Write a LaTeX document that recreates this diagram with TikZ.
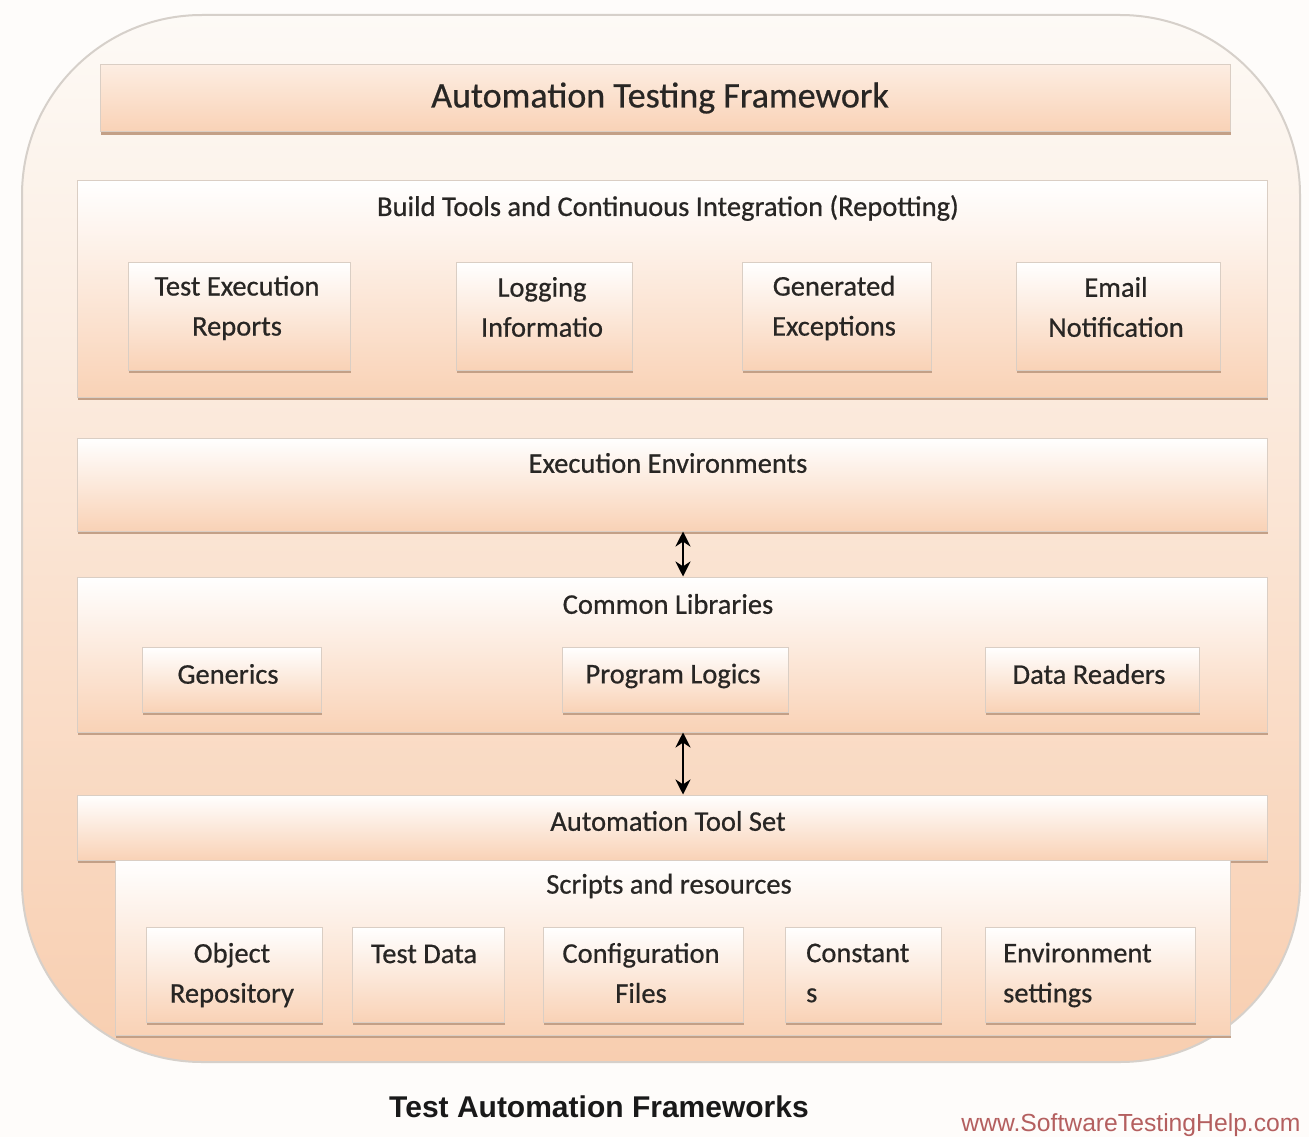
\documentclass[tikz,border=0pt]{standalone}
\usepackage{fontspec}
\setmainfont{Carlito}
\newfontfamily\boxfont[FakeBold=0.6]{Carlito}
\newfontfamily\arialf{Liberation Sans}
\usetikzlibrary{arrows.meta,shadows}
\definecolor{bgc}{RGB}{254,252,250}
\definecolor{peach}{RGB}{249,210,182}
\definecolor{framebot}{RGB}{248,206,176}
\definecolor{frametop}{RGB}{253,250,246}
\definecolor{edgec}{RGB}{218,206,196}
\definecolor{frameedge}{RGB}{214,208,202}
\definecolor{shadowc}{RGB}{195,160,135}
\definecolor{txt}{RGB}{40,38,36}
\definecolor{wmc}{RGB}{180,95,95}
\tikzset{
  panel/.style={draw=edgec, line width=1pt, top color=white, bottom color=peach,
    drop shadow={shadow xshift=1pt, shadow yshift=-3pt, fill=shadowc, opacity=1},
    inner sep=0pt},
  ibox/.style={panel},
  lbl/.style={font=\boxfont\fontsize{28.5}{40}\selectfont, text=txt, inner sep=0pt, align=center},
  dbl/.style={line width=2.8pt, {Stealth[length=15pt,width=15pt]}-{Stealth[length=15pt,width=15pt]}}
}
\begin{document}
\begin{tikzpicture}[x=1pt,y=-1pt]
\fill[bgc] (0,0) rectangle (1309,1137);
\useasboundingbox (0,0) rectangle (1309,1137);
% outer frame
\node[draw=frameedge, line width=2pt, top color=frametop, bottom color=framebot,
  rounded corners=180pt, minimum width=1278pt, minimum height=1047pt, inner sep=0pt]
  (frame) at (661,538.5) {};
% title
\node[panel, minimum width=1130pt, minimum height=67pt, top color=white!60!peach, bottom color=peach]
  (title) at (665,98.5) {};
\node[lbl, font=\boxfont\fontsize{36}{40}\selectfont] (titlet) at (660,98) {Automation Testing Framework};
% build tools panel
\node[panel, minimum width=1190pt, minimum height=217pt] (build) at (672,288.5) {};
\node[lbl] (buildt) at (668,208) {Build Tools and Continuous Integration (Repotting)};
\node[ibox, minimum width=222pt, minimum height=108pt] (ter) at (239,316) {};
\node[lbl] (tert) at (237,308) {Test Execution\\Reports};
\node[ibox, minimum width=176pt, minimum height=108pt] (log) at (544,316) {};
\node[lbl] (logt) at (542,307) {Logging\\Informatio};
\node[ibox, minimum width=189pt, minimum height=108pt] (gen) at (836.5,316) {};
\node[lbl] (gent) at (834,308) {Generated\\Exceptions};
\node[ibox, minimum width=204pt, minimum height=108pt] (email) at (1118,316) {};
\node[lbl] (emailt) at (1116,307) {Email\\Notification};
% execution environments
\node[panel, minimum width=1190pt, minimum height=93pt] (exec) at (672,484.5) {};
\node[lbl] (exect) at (668,463) {Execution Environments};
% common libraries
\node[panel, minimum width=1190pt, minimum height=155pt] (common) at (672,654.5) {};
\node[lbl] (commont) at (668,604) {Common Libraries};
\node[ibox, minimum width=179pt, minimum height=65pt] (generics) at (231.5,679.5) {};
\node[lbl] (genericst) at (228,674) {Generics};
\node[ibox, minimum width=226pt, minimum height=65pt] (prog) at (675,679.5) {};
\node[lbl] (progt) at (673,676) {Program Logics};
\node[ibox, minimum width=214pt, minimum height=65pt] (data) at (1092,679.5) {};
\node[lbl] (datat) at (1089,674) {Data Readers};
% automation tool set
\node[panel, minimum width=1190pt, minimum height=65pt] (toolset) at (672,827.5) {};
\node[lbl] (toolsett) at (668,821) {Automation Tool Set};
% scripts and resources
\node[panel, minimum width=1115pt, minimum height=175pt] (scripts) at (672.5,947.5) {};
\node[lbl] (scriptst) at (669,886) {Scripts and resources};
\node[ibox, minimum width=176pt, minimum height=95pt] (obj) at (234,974.5) {};
\node[lbl] (objt) at (232,975) {Object\\Repository};
\node[ibox, minimum width=152pt, minimum height=95pt] (tdata) at (428,974.5) {};
\node[lbl] (tdatat) at (424,954) {Test Data};
\node[ibox, minimum width=200pt, minimum height=95pt] (config) at (643,974.5) {};
\node[lbl] (configt) at (641,973) {Configuration\\Files};
\node[ibox, minimum width=156pt, minimum height=95pt] (const) at (863,974.5) {};
\node[lbl, align=left, anchor=west] (constt) at (806,973) {Constant\\s};
\node[ibox, minimum width=210pt, minimum height=95pt] (env) at (1090,974.5) {};
\node[lbl, align=left, anchor=west] (envt) at (1003,975) {Environment\\settings};
% arrows
\coordinate (ax) at (683,0);
\draw[dbl] (exec.south -| ax) -- (common.north -| ax);
\draw[dbl] (common.south -| ax) -- (toolset.north -| ax);
% captions
\node[font=\arialf\bfseries\fontsize{30}{32}\selectfont, inner sep=0pt, text=black!90] (cap) at (599,1107) {Test Automation Frameworks};
\node[font=\arialf\fontsize{24.7}{26}\selectfont, inner sep=0pt, text=wmc] (wm) at (1131,1125) {www.SoftwareTestingHelp.com};
\end{tikzpicture}
\end{document}
